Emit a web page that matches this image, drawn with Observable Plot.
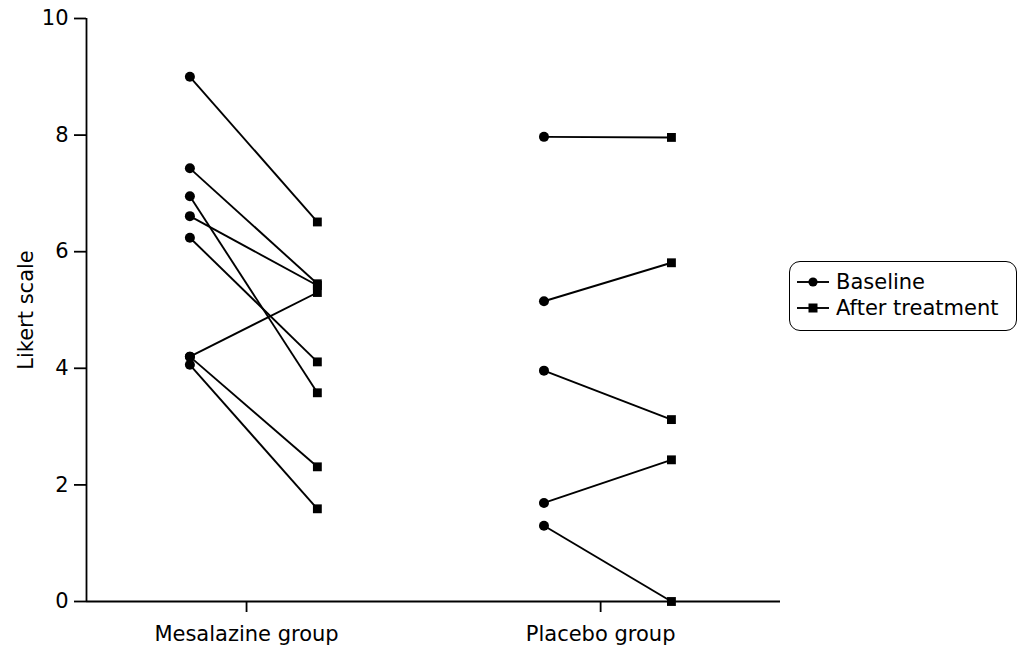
<!DOCTYPE html>
<html>
<head>
<meta charset="utf-8">
<script src="https://cdn.jsdelivr.net/npm/d3@7"></script>
<script src="https://cdn.jsdelivr.net/npm/@observablehq/plot@0.6"></script>
<style>
  html, body { margin: 0; padding: 0; background: white; }
  #wrap { position: relative; width: 1019px; height: 653px; font-family: "DejaVu Sans", "Noto Sans", sans-serif; }
  #legend { position: absolute; left: 789px; top: 261px; width: 228px; height: 70px; box-sizing: border-box;
    border: 1.6px solid black; border-radius: 11px; font-size: 21px; color: black; padding-top: 7px; }
  #legend .row { display: flex; align-items: center; height: 26px; }
  #legend svg { margin-left: 7px; margin-right: 7px; }
</style>
</head>
<body>
<div id="wrap"></div>
<script>
// ---- data ----
const groups = ["Mesalazine group", "Placebo group"];
const times = ["Baseline", "After treatment"];
const timeOffsets = [-0.16, 0.2];               // position of each time point around its group
const mesalazineBaseline = [9.0, 7.43, 6.95, 6.61, 6.24, 4.20, 4.20, 4.06];
const mesalazineAfter    = [6.51, 5.45, 3.58, 5.42, 4.11, 5.30, 2.31, 1.59];
const placeboBaseline    = [7.97, 5.15, 3.96, 1.69, 1.30];
const placeboAfter       = [7.96, 5.81, 3.12, 2.43, 0.0];
const yTicks = [0, 2, 4, 6, 8, 10];
const xDomain = [0.548, 2.508];

// build paired rows
const pairs = [];
mesalazineBaseline.forEach((b, i) => pairs.push({g: 1, base: b, after: mesalazineAfter[i]}));
placeboBaseline.forEach((b, i) => pairs.push({g: 2, base: b, after: placeboAfter[i]}));

const chart = Plot.plot({
  width: 1019,
  height: 653,
  marginLeft: 86,
  marginRight: 239,
  marginTop: 18,
  marginBottom: 52,
  style: {fontFamily: '"DejaVu Sans", "Noto Sans", sans-serif', fontSize: "21px", color: "black", background: "white"},
  x: {domain: xDomain},
  y: {domain: [0, 10]},
  marks: [
    Plot.axisY({ticks: yTicks, tickSize: 12, tickPadding: 6, strokeWidth: 1.8, label: "Likert scale",
      labelArrow: "none", labelAnchor: "center", labelOffset: 68, fontSize: 21}),
    Plot.axisX({ticks: [1, 2], tickFormat: d => groups[d - 1], tickSize: 11, tickPadding: 14,
      strokeWidth: 1.8, label: null, fontSize: 21}),
    Plot.ruleX([xDomain[0]], {strokeWidth: 1.8}),
    Plot.ruleY([0], {strokeWidth: 1.8}),
    Plot.link(pairs, {
      x1: d => d.g + timeOffsets[0], y1: "base",
      x2: d => d.g + timeOffsets[1], y2: "after",
      stroke: "black", strokeWidth: 1.9
    }),
    Plot.dot(pairs, {x: d => d.g + timeOffsets[0], y: "base", symbol: "circle", fill: "black", r: 5}),
    Plot.dot(pairs, {x: d => d.g + timeOffsets[1], y: "after", symbol: "square", fill: "black", r: 5})
  ]
});
const wrap = document.getElementById("wrap");
wrap.appendChild(chart);

// legend
const legend = document.createElement("div");
legend.id = "legend";
times.forEach((t, i) => {
  const row = document.createElement("div");
  row.className = "row";
  const sym = i === 0
    ? '<circle cx="16" cy="8" r="4.6" fill="black"/>'
    : '<rect x="11.5" y="3.5" width="9" height="9" fill="black"/>';
  row.innerHTML = `<svg width="32" height="16"><line x1="0" x2="32" y1="8" y2="8" stroke="black" stroke-width="1.9"/>${sym}</svg><span>${t}</span>`;
  legend.appendChild(row);
});
wrap.appendChild(legend);
</script>
</body>
</html>
